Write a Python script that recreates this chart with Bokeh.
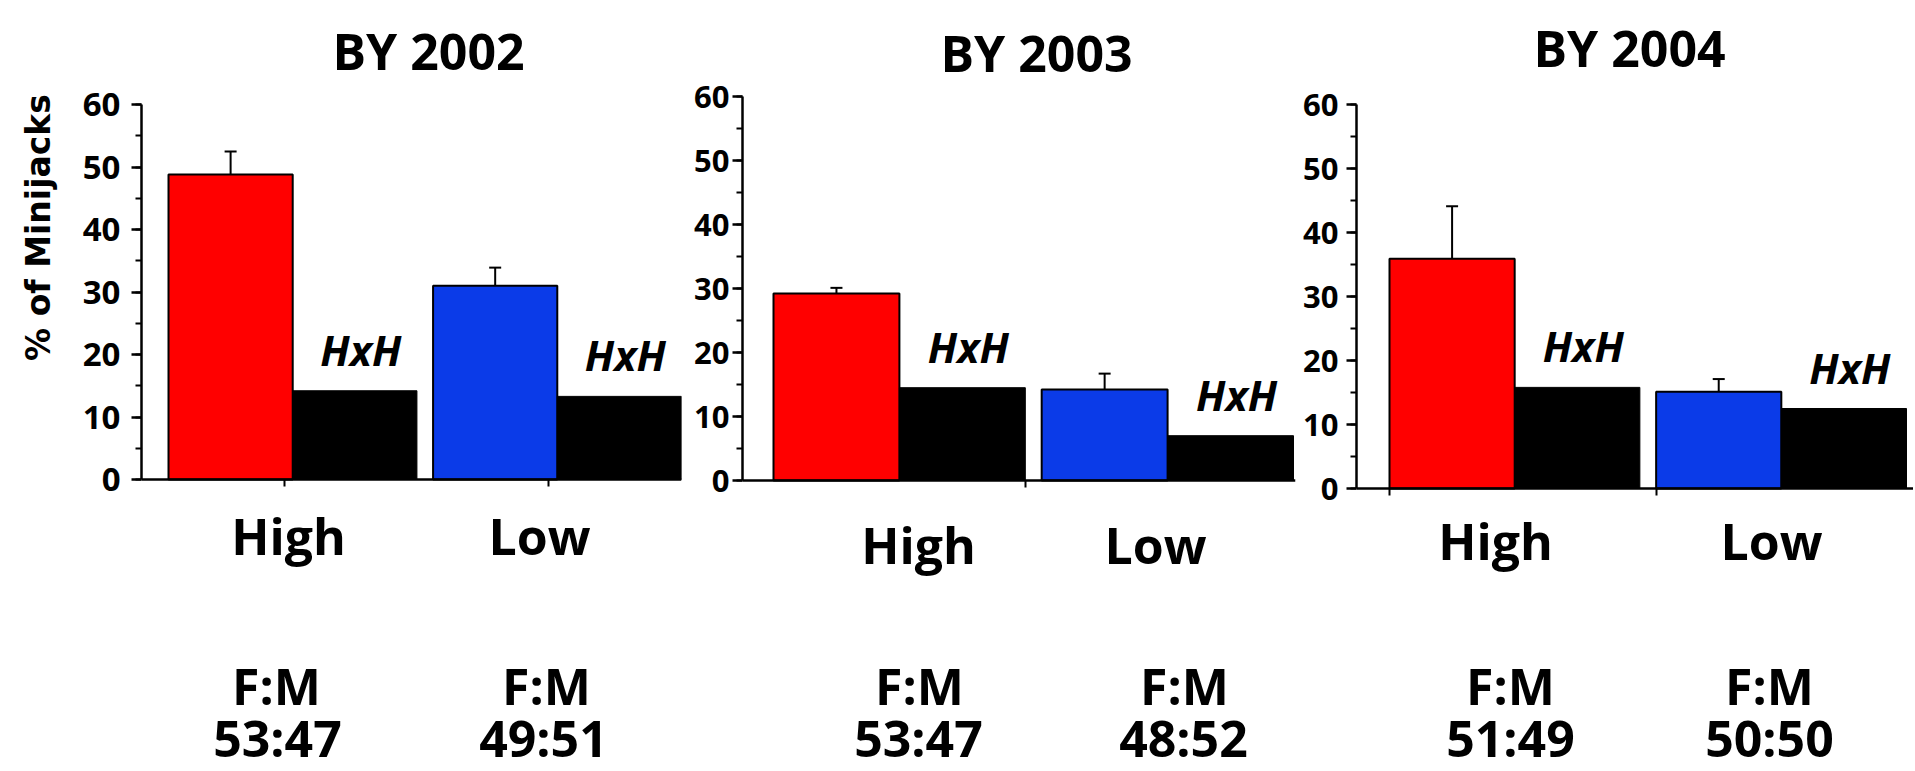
import numpy as np
from bokeh.plotting import figure
from bokeh.layouts import row
from bokeh.models import (ColumnDataSource, LabelSet, Label, Whisker, TeeHead,
                          FixedTicker, SingleIntervalTicker, Range1d)
from bokeh.core.properties import value
from bokeh.embed import file_html
from bokeh.resources import INLINE

# ---------------- data ----------------
groups = ["High", "Low"]
years = ["BY 2002", "BY 2003", "BY 2004"]

sel_2002 = [48.8, 31.0]
err_2002 = [3.7, 2.9]
hxh_2002 = [14.2, 13.3]
fm_2002 = ["53:47", "49:51"]

sel_2003 = [29.2, 14.2]
err_2003 = [0.9, 2.5]
hxh_2003 = [14.5, 7.0]
fm_2003 = ["53:47", "48:52"]

sel_2004 = [35.9, 15.1]
err_2004 = [8.2, 2.0]
hxh_2004 = [15.8, 12.5]
fm_2004 = ["51:49", "50:50"]

sel_colors = ["#FF0000", "#0B3BE8"]
hxh_label = "HxH"
fm_label = "F:M"
y_title = "% of Minijacks"

# ---------------- layout (page pixels) ----------------
CANVAS_H = 771
GAP = 0.13
FONT = "Open Sans"
W0 = 70  # strip holding the y title

LAYOUTS = [
    dict(x0=W0, width=684 - W0, left_full=141, right_full=681, pad_l=27, pad_r=0,
         y0_full=479, ppu=6.25, title=(428, 50), cat_x=[288, 539], cat_y=554,
         fm_x=[276, 546], num_x=[277, 543], xticks=[1 - 0.07, 3 + GAP - 0.07],
         tick_size=33, standoff=11),
    dict(x0=684, width=614, left_full=742, right_full=1295, pad_l=31, pad_r=2,
         y0_full=480, ppu=6.4, title=(1036, 52), cat_x=[918, 1155], cat_y=563,
         fm_x=[919, 1184], num_x=[918, 1183], xticks=[2.0],
         tick_size=31, standoff=3),
    dict(x0=1298, width=615, left_full=1356, right_full=1913, pad_l=33, pad_r=7,
         y0_full=488, ppu=6.4, title=(1629, 47), cat_x=[1495, 1771], cat_y=559,
         fm_x=[1510, 1769], num_x=[1510, 1769], xticks=[0.0, 2 + GAP],
         tick_size=31, standoff=8),
]
FM_BASE = 704
NUM_BASE = 756


def make_title_strip():
    p = figure(width=W0, height=CANVAS_H, x_range=Range1d(0, W0),
               y_range=Range1d(CANVAS_H, 0), x_axis_location=None,
               y_axis_location=None, min_border=0, output_backend="svg",
               toolbar_location=None, title=None)
    p.grid.visible = False
    p.outline_line_color = None
    p.add_layout(Label(x=37.5, y=227, text=y_title, angle=np.pi / 2,
                       text_align="center", text_baseline="middle",
                       text_font="DejaVu Sans", text_font_style="bold",
                       text_font_size="33px", text_color="black"))
    return p


def make_panel(idx, sel, err, hxh, fm, L):
    min_left = L["left_full"] - L["x0"]
    min_right = L["x0"] + L["width"] - L["right_full"]
    frame_w = L["width"] - min_left - min_right
    u = (frame_w - L["pad_l"] - L["pad_r"]) / (4 + GAP)
    x_start = -L["pad_l"] / u
    x_end = 4 + GAP + L["pad_r"] / u

    def fx(px):
        return x_start + (px - L["left_full"]) / u

    def fy(py):
        return (L["y0_full"] - py) / L["ppu"]

    p = figure(width=L["width"], height=CANVAS_H,
               x_range=Range1d(x_start, x_end),
               y_range=Range1d(fy(CANVAS_H), fy(0)),
               min_border_left=min_left, min_border_right=min_right,
               min_border_top=0, min_border_bottom=0,
               output_backend="svg", toolbar_location=None, title=None)
    p.xgrid.visible = False
    p.ygrid.visible = False
    p.outline_line_color = None
    p.background_fill_color = "white"
    p.border_fill_color = "white"

    starts = [k * (2 + GAP) for k in range(len(groups))]
    sel_x = [s + 0.5 for s in starts]
    hxh_x = [s + 1.5 for s in starts]

    src_sel = ColumnDataSource(dict(x=sel_x, top=sel, color=sel_colors,
                                    lower=sel, upper=[v + e for v, e in zip(sel, err)]))
    src_hxh = ColumnDataSource(dict(x=hxh_x, top=hxh, text=[hxh_label] * len(hxh)))

    p.vbar(x="x", top="top", bottom=0, width=1, fill_color="color",
           line_color="black", line_width=2, source=src_sel)
    p.vbar(x="x", top="top", bottom=0, width=1, fill_color="black",
           line_color="black", line_width=1, source=src_hxh)

    p.add_layout(Whisker(source=src_sel, base="x", upper="upper", lower="lower",
                         line_width=2, line_color="black",
                         upper_head=TeeHead(size=12, line_width=2, line_color="black"),
                         lower_head=None))

    p.add_layout(LabelSet(source=src_hxh, x="x", y="top", text="text",
                          x_offset=6, y_offset=25, text_align="center",
                          text_baseline="alphabetic", text_font=value(FONT),
                          text_font_style="bold italic", text_font_size="42px",
                          text_color="black"))

    src_cat = ColumnDataSource(dict(x=[fx(c) for c in L["cat_x"]],
                                    y=[fy(L["cat_y"])] * len(groups), text=groups))
    p.add_layout(LabelSet(source=src_cat, x="x", y="y", text="text",
                          text_align="center", text_baseline="alphabetic",
                          text_font=value(FONT), text_font_style="bold",
                          text_font_size="50px", text_color="black"))

    src_fm = ColumnDataSource(dict(x=[fx(c) for c in L["fm_x"]],
                                   y=[fy(FM_BASE)] * len(groups), text=[fm_label] * len(groups)))
    p.add_layout(LabelSet(source=src_fm, x="x", y="y", text="text",
                          text_align="center", text_baseline="alphabetic",
                          text_font=value(FONT), text_font_style="bold",
                          text_font_size="50px", text_color="black"))

    src_num = ColumnDataSource(dict(x=[fx(c) for c in L["num_x"]],
                                    y=[fy(NUM_BASE)] * len(groups), text=fm))
    p.add_layout(LabelSet(source=src_num, x="x", y="y", text="text",
                          text_align="center", text_baseline="alphabetic",
                          text_font=value(FONT), text_font_style="bold",
                          text_font_size="50px", text_color="black"))

    tx, ty = L["title"]
    p.add_layout(Label(x=fx(tx), y=fy(ty), text=years[idx], text_align="center",
                       text_baseline="alphabetic", text_font=FONT,
                       text_font_style="bold", text_font_size="50px",
                       text_color="black"))

    yax = p.yaxis[0]
    yax.ticker = SingleIntervalTicker(interval=10, num_minor_ticks=2)
    yax.bounds = (0, 60)
    yax.major_label_text_font = FONT
    yax.major_label_text_font_style = "bold"
    yax.major_label_text_font_size = f"{L['tick_size']}px"
    yax.major_label_text_color = "black"
    yax.major_label_standoff = L["standoff"]
    yax.axis_line_width = 2.5
    yax.axis_line_color = "black"
    yax.major_tick_line_width = 2.5
    yax.major_tick_line_color = "black"
    yax.minor_tick_line_width = 2
    yax.minor_tick_line_color = "black"
    yax.major_tick_out = 10
    yax.major_tick_in = 0
    yax.minor_tick_out = 6
    yax.minor_tick_in = 0

    xax = p.xaxis[0]
    xax.fixed_location = 0
    xax.ticker = FixedTicker(ticks=[], minor_ticks=L["xticks"])
    xax.axis_line_width = 2.5
    xax.axis_line_color = "black"
    xax.major_tick_out = 0
    xax.major_tick_in = 0
    xax.major_label_standoff = 0
    xax.minor_tick_line_width = 2
    xax.minor_tick_line_color = "black"
    xax.minor_tick_out = 7
    xax.minor_tick_in = 0
    return p


p0 = make_title_strip()
p1 = make_panel(0, sel_2002, err_2002, hxh_2002, fm_2002, LAYOUTS[0])
p2 = make_panel(1, sel_2003, err_2003, hxh_2003, fm_2003, LAYOUTS[1])
p3 = make_panel(2, sel_2004, err_2004, hxh_2004, fm_2004, LAYOUTS[2])

layout = row(p0, p1, p2, p3)
open("out.html", "w").write(file_html(layout, INLINE))
